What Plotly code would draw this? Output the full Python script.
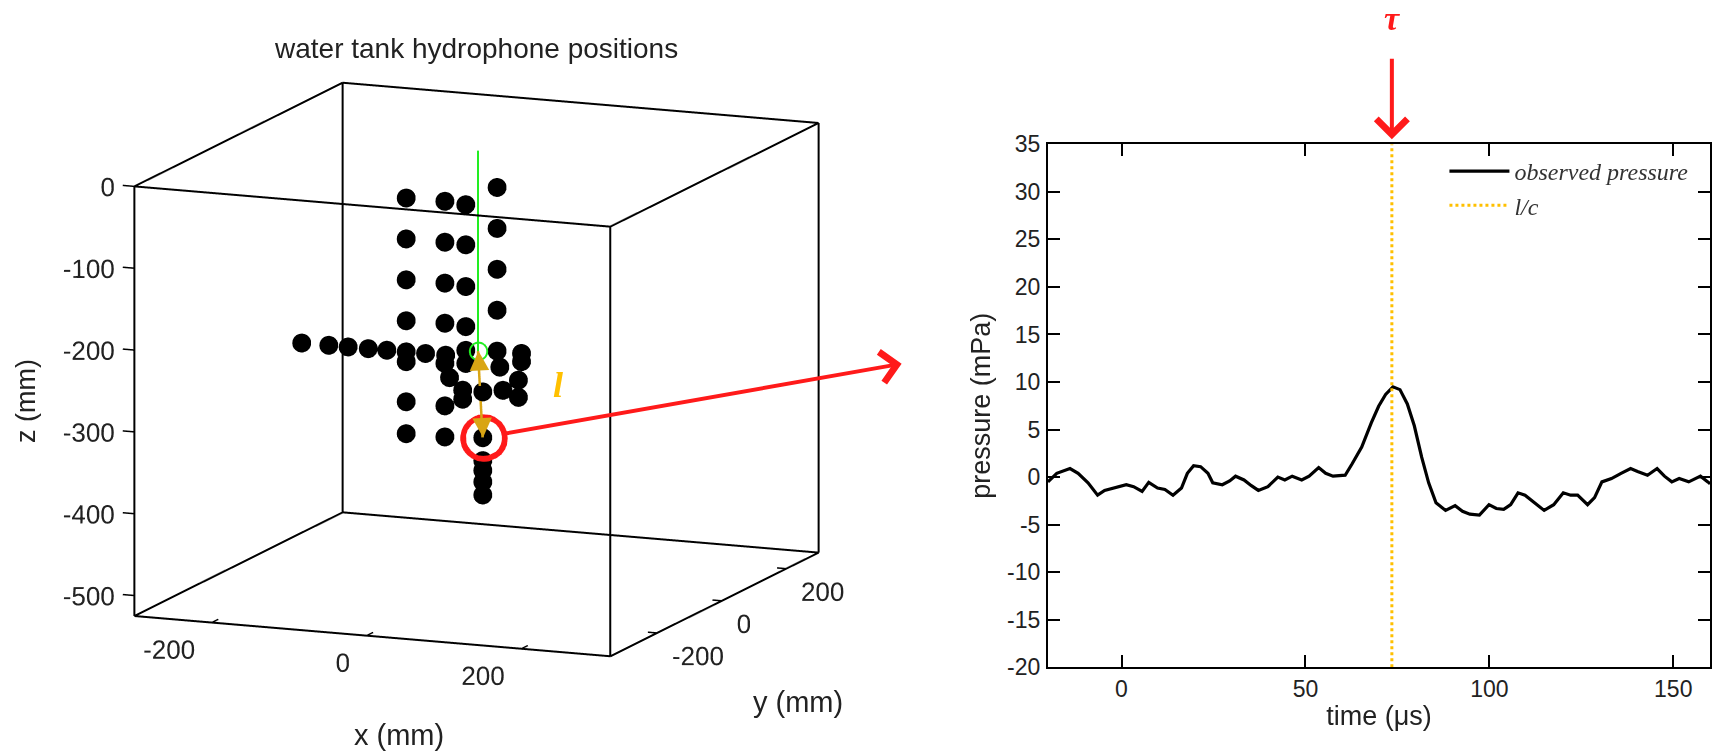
import plotly.graph_objects as go

# ---------------- data ----------------
BOX_X = [-300, 315]
BOX_Y = [-345, 300]
BOX_Z = [-525, 0]
X_TICKS = [-200, 0, 200]
Y_TICKS = [-200, 0, 200]
Z_TICKS = [0, -100, -200, -300, -400, -500]

HYD_X = [-93, -93, -93, -93, -93, -93, -93,
         -43, -43, -43, -43, -43, -43, -43,
         -16, -16, -16, -16, -16,
         -16, -16, -16, -16, -16,
         -228, -193, -168, -142, -118, -93, -68, -42,
         -16, -37, 28, 56, 56, -20, -20, 6, 32, 52, 52,
         6, 6, 6, 6, 6]
HYD_Y = [0, 0, 0, 0, 0, 0, 0,
         0, 0, 0, 0, 0, 0, 0,
         0, 0, 0, 0, 0,
         97, 97, 97, 97, 97,
         0, 0, 0, 0, 0, 0, 0, 0,
         0, 0, 0, 0, 0, 0, 0, 0, 0, 0, 0,
         0, 0, 0, 0, 0]
HYD_Z = [-65, -115, -165, -215, -265, -314, -353,
         -65, -115, -165, -214, -263, -315, -353,
         -67, -116, -167, -216, -261,
         -65, -115, -165, -215, -265,
         -253, -253, -253, -253, -253, -253, -253, -253,
         -245, -280, -262, -243, -253, -294, -305, -294, -290, -276, -297,
         -350, -378, -390, -404, -420]

SRC_X, SRC_Y, SRC_Z = [0], [0], [-245]
GREEN_TOP_Z = 0
TGT_X, TGT_Y, TGT_Z = [6], [0], [-350]

TIME = [-20, -17.6, -14, -11.8, -9.1, -6.5, -4.6, -2, 1.3, 3.3,
        5.6, 7.4, 9.8, 11.8, 14, 16.3, 17.9, 19.6, 21.5, 23.5,
        24.8, 27.4, 29.4, 31, 33.3, 35.3, 37.2, 39.8, 42.5, 44.4,
        46.4, 49, 51, 53.6, 55.5, 57.5, 60.8, 62.7, 65.3, 67.9,
        69.9, 71.8, 73.8, 75.7, 77.7, 79.6, 81.6, 83.5, 85.5, 88.1,
        90.7, 92.7, 94.7, 97.3, 99.9, 101.9, 103.9, 105.8, 107.8, 109.7,
        112.3, 114.9, 117.5, 120.1, 122.1, 124, 126.7, 128.6, 130.6, 133.2,
        135.8, 138.4, 140.3, 143, 145.6, 147.6, 149.6, 151.6, 154.2, 157.4,
        159.4, 160]
PRESSURE = [-0.5, 0.4, 0.9, 0.4, -0.6, -1.9, -1.4, -1.15, -0.8, -1.0,
            -1.5, -0.55, -1.15, -1.3, -1.9, -1.15, 0.4, 1.2, 1.1, 0.4,
            -0.6, -0.8, -0.4, 0.1, -0.3, -0.9, -1.4, -1.0, 0.0, -0.3,
            0.1, -0.3, 0.1, 1.0, 0.4, 0.1, 0.2, 1.4, 3.15, 5.7,
            7.45, 8.7, 9.5, 9.2, 7.7, 5.4, 2.1, -0.6, -2.7, -3.5,
            -3.0, -3.6, -3.9, -4.0, -2.9, -3.3, -3.4, -2.9, -1.65, -1.9,
            -2.7, -3.5, -2.9, -1.65, -1.9, -1.9, -2.9, -2.15, -0.5, -0.15,
            0.4, 0.9, 0.6, 0.2, 0.9, 0.1, -0.5, -0.15, -0.5, 0.1,
            -0.5, -0.7]
TAU = 73.5
T_RANGE = [-20, 160]
P_RANGE = [-20, 35]
T_TICKS = [0, 50, 100, 150]
T_TICK_LABELS = ["0", "50", "100", "150"]
P_TICKS = [-20, -15, -10, -5, 0, 5, 10, 15, 20, 25, 30, 35]
P_TICK_LABELS = ["-20", "-15", "-10", "-5", "0", "5", "10", "15", "20", "25", "30", "35"]

# ---------------- styling constants ----------------
SANS = "Liberation Sans, Arial, sans-serif"
SERIF = "Liberation Serif, Times New Roman, serif"
GOLD = "#FFC000"
ARROW_GOLD = "#D9A514"
RED = "#FF1A1A"
GREEN = "#22EE22"
TXT = "#222222"
PAD_X, PAD_Y, PAD_Z = 40, 55, 30
EYE_LEN = 2.0
EYE_DIR = (0.3731, -0.9048, 0.2052)
SCENE_SCALE = 1.731

fig = go.Figure()

# box edges
x0, x1 = BOX_X
y0, y1 = BOX_Y
z0, z1 = BOX_Z
corners = {}
for i, xx in enumerate(BOX_X):
    for j, yy in enumerate(BOX_Y):
        for k, zz in enumerate(BOX_Z):
            corners[(i, j, k)] = (xx, yy, zz)
ex, ey, ez = [], [], []
for a in corners:
    for d in range(3):
        if a[d] == 0:
            b = list(a); b[d] = 1; b = tuple(b)
            for p in (corners[a], corners[b]):
                ex.append(p[0]); ey.append(p[1]); ez.append(p[2])
            ex.append(None); ey.append(None); ez.append(None)
fig.add_trace(go.Scatter3d(x=ex, y=ey, z=ez, mode="lines",
                           line=dict(color="black", width=4),
                           hoverinfo="skip", showlegend=False))

# tick marks
tx, ty, tz = [], [], []
for v in Z_TICKS:
    tx += [x0 - 15, x0, None]; ty += [y0, y0, None]; tz += [v, v, None]
for v in X_TICKS:
    tx += [v, v, None]; ty += [y0, y0 + 20, None]; tz += [z0, z0, None]
for v in Y_TICKS:
    tx += [x1, x1 - 12, None]; ty += [v, v, None]; tz += [z0, z0, None]
fig.add_trace(go.Scatter3d(x=tx, y=ty, z=tz, mode="lines",
                           line=dict(color="black", width=3),
                           hoverinfo="skip", showlegend=False))

# tick labels
tickfont = dict(family=SANS, size=26, color=TXT)
fig.add_trace(go.Scatter3d(x=[x0 + 7] * len(Z_TICKS), y=[y0] * len(Z_TICKS), z=Z_TICKS,
                           mode="text", text=[str(v) for v in Z_TICKS],
                           textposition="middle left", textfont=tickfont,
                           hoverinfo="skip", showlegend=False))
fig.add_trace(go.Scatter3d(x=X_TICKS, y=[y0 + 26] * len(X_TICKS), z=[z0 + 5] * len(X_TICKS),
                           mode="text", text=[str(v) for v in X_TICKS],
                           textposition="bottom left", textfont=tickfont,
                           hoverinfo="skip", showlegend=False))
fig.add_trace(go.Scatter3d(x=[x1 - 13] * len(Y_TICKS), y=Y_TICKS, z=[z0 - 29] * len(Y_TICKS),
                           mode="text", text=[str(v) for v in Y_TICKS],
                           textposition="middle right", textfont=tickfont,
                           hoverinfo="skip", showlegend=False))

# hydrophones
fig.add_trace(go.Scatter3d(x=HYD_X, y=HYD_Y, z=HYD_Z, mode="markers",
                           marker=dict(color="black", size=11, line=dict(width=0)),
                           hoverinfo="skip", showlegend=False))

# green line + source circle
fig.add_trace(go.Scatter3d(x=[SRC_X[0], SRC_X[0]], y=[SRC_Y[0], SRC_Y[0]],
                           z=[GREEN_TOP_Z, SRC_Z[0]], mode="lines",
                           line=dict(color=GREEN, width=4),
                           hoverinfo="skip", showlegend=False))
fig.add_trace(go.Scatter3d(x=SRC_X, y=SRC_Y, z=SRC_Z, mode="markers",
                           marker=dict(color=GREEN, size=11, symbol="circle-open"),
                           hoverinfo="skip", showlegend=False))
# gold line (source -> target)
fig.add_trace(go.Scatter3d(x=[SRC_X[0], TGT_X[0]], y=[SRC_Y[0], TGT_Y[0]],
                           z=[SRC_Z[0], TGT_Z[0]], mode="lines",
                           line=dict(color=ARROW_GOLD, width=5),
                           hoverinfo="skip", showlegend=False))
# red circle around target (two rings for a thicker stroke)
for ring_size in (27, 25.5):
    fig.add_trace(go.Scatter3d(x=TGT_X, y=TGT_Y, z=TGT_Z, mode="markers",
                               marker=dict(color=RED, size=ring_size, symbol="circle-open"),
                               hoverinfo="skip", showlegend=False))

# ---------------- right panel ----------------
fig.add_trace(go.Scatter(x=TIME, y=PRESSURE, mode="lines", name="observed pressure",
                         line=dict(color="black", width=3.2), xaxis="x", yaxis="y"))
fig.add_trace(go.Scatter(x=[TAU, TAU], y=P_RANGE, mode="lines", name="l/c",
                         line=dict(color=GOLD, width=3, dash="dot"), xaxis="x", yaxis="y"))

aspect_span = [(BOX_X[1] - BOX_X[0] + 2 * PAD_X) * 0.832,
               (BOX_Y[1] - BOX_Y[0] + 2 * PAD_Y) * 0.842,
               (BOX_Z[1] - BOX_Z[0] + 2 * PAD_Z) * 0.831]
amax = max(aspect_span)

scene_ann = [
    dict(x=TGT_X[0], y=TGT_Y[0], z=TGT_Z[0], text="", showarrow=True, font=dict(size=1),
         ax=420, ay=-74, arrowside="start", startarrowhead=4, startarrowsize=1.5,
         arrowwidth=4, arrowcolor=RED, standoff=20),
    dict(x=SRC_X[0], y=SRC_Y[0], z=SRC_Z[0], text="", showarrow=True, font=dict(size=1),
         ax=0.8, ay=16, arrowhead=2, arrowsize=1.3, arrowwidth=3, arrowcolor=ARROW_GOLD),
    dict(x=TGT_X[0], y=TGT_Y[0], z=TGT_Z[0], text="", showarrow=True, font=dict(size=1),
         ax=-0.8, ay=-16, arrowhead=2, arrowsize=1.3, arrowwidth=3, arrowcolor=ARROW_GOLD),
    dict(x=TGT_X[0], y=TGT_Y[0], z=TGT_Z[0], text="<b><i>l</i></b>", showarrow=False,
         xshift=75, yshift=52, font=dict(family=SERIF, size=36, color=GOLD)),
]

axis3d = dict(visible=False, autorange=False)


def paper_text(text, x, y, size, **kw):
    return dict(text=text, x=x, y=y, xref="paper", yref="paper", xanchor="center",
                yanchor="middle", showarrow=False, font=dict(family=SANS, size=size, color=TXT), **kw)


fig.update_layout(
    template="none",
    width=1714, height=754,
    margin=dict(l=0, r=0, t=0, b=0, pad=0, autoexpand=False),
    paper_bgcolor="white", plot_bgcolor="white",
    scene=dict(
        domain=dict(x=[0.02, 0.5366], y=[0.0198, 1.0]),
        xaxis=dict(axis3d, range=[BOX_X[0] - PAD_X, BOX_X[1] + PAD_X]),
        yaxis=dict(axis3d, range=[BOX_Y[0] - PAD_Y, BOX_Y[1] + PAD_Y]),
        zaxis=dict(axis3d, range=[BOX_Z[0] - PAD_Z, BOX_Z[1] + PAD_Z]),
        aspectmode="manual",
        aspectratio=dict(x=SCENE_SCALE * aspect_span[0] / amax,
                         y=SCENE_SCALE * aspect_span[1] / amax,
                         z=SCENE_SCALE * aspect_span[2] / amax),
        camera=dict(eye=dict(x=EYE_DIR[0] * EYE_LEN, y=EYE_DIR[1] * EYE_LEN, z=EYE_DIR[2] * EYE_LEN),
                    up=dict(x=0, y=0, z=1), center=dict(x=0, y=0, z=0),
                    projection=dict(type="orthographic")),
        bgcolor="rgba(0,0,0,0)",
        annotations=scene_ann,
    ),
    xaxis=dict(domain=[0.6114, 0.9977], range=T_RANGE, tickvals=T_TICKS, ticktext=T_TICK_LABELS,
               ticks="inside", ticklen=12, tickwidth=2, tickcolor="black",
               showline=True, linewidth=2, linecolor="black", mirror="ticks",
               showgrid=False, zeroline=False, automargin=False,
               tickfont=dict(family=SANS, size=23, color=TXT),
               title=dict(text="time (\u03bcs)", font=dict(family=SANS, size=27, color=TXT), standoff=5)),
    yaxis=dict(domain=[0.115, 0.8086], range=P_RANGE, tickvals=P_TICKS, ticktext=P_TICK_LABELS,
               ticks="inside", ticklen=12, tickwidth=2, tickcolor="black",
               showline=True, linewidth=2, linecolor="black", mirror="ticks",
               showgrid=False, zeroline=False, automargin=False, ticklabelstandoff=1,
               tickfont=dict(family=SANS, size=23, color=TXT),
               title=dict(text="pressure (mPa)", font=dict(family=SANS, size=27, color=TXT), standoff=9)),
    legend=dict(x=0.988, y=0.8024, xanchor="right", yanchor="top",
                bgcolor="rgba(0,0,0,0)", borderwidth=0, itemwidth=60,
                font=dict(family=SERIF, size=24, color="#333333", style="italic")),
    showlegend=True,
    annotations=[
        paper_text("water tank hydrophone positions", 0.2777, 0.9363, 28),
        paper_text("x (mm)", 0.2328, 0.0252, 29),
        paper_text("y (mm)", 0.4656, 0.069, 29),
        paper_text("z (mm)", 0.01517, 0.4682, 27, textangle=-90),
        dict(text="<b><i>\u03c4</i></b>", x=TAU, y=0.975, xref="x", yref="paper",
             xanchor="center", yanchor="middle",
             showarrow=False, font=dict(family=SERIF, size=34, color=RED)),
        dict(text="", x=TAU, y=P_RANGE[1], xref="x", yref="y", showarrow=True, font=dict(size=1),
             ax=0, ay=-87, arrowhead=4, arrowsize=1.5, arrowwidth=4, arrowcolor=RED, standoff=5),
    ],
)

fig.write_html("out.html", config={"displayModeBar": False},
               post_script="document.body.style.margin='0px';document.body.style.overflow='hidden';")
